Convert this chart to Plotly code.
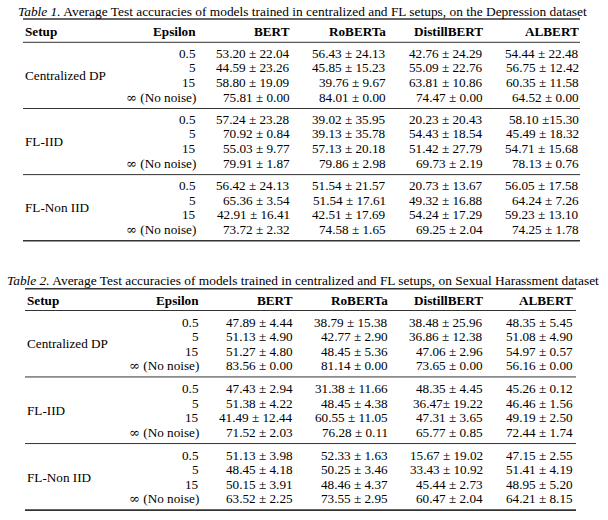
import plotly.graph_objects as go

# ---------------- data ----------------
models = ["BERT", "RoBERTa", "DistillBERT", "ALBERT"]
setups = ["Centralized DP", "FL-IID", "FL-Non IID"]
epsilons = ["0.5", "5", "15", "∞ (No noise)"]

caption1_label = "Table 1."
caption1_text = "Average Test accuracies of models trained in centralized and FL setups, on the Depression dataset"
caption2_label = "Table 2."
caption2_text = "Average Test accuracies of models trained in centralized and FL setups, on Sexual Harassment dataset"

# Table 1 (Depression) - rows: Centralized DP x4, FL-IID x4, FL-Non IID x4
dep_bert = ["53.20 ± 22.04", "44.59 ± 23.26", "58.80 ± 19.09", "75.81 ± 0.00",
            "57.24 ± 23.28", "70.92 ± 0.84", "55.03 ± 9.77", "79.91 ± 1.87",
            "56.42 ± 24.13", "65.36 ± 3.54", "42.91 ± 16.41", "73.72 ± 2.32"]
dep_roberta = ["56.43 ± 24.13", "45.85 ± 15.23", "39.76 ± 9.67", "84.01 ± 0.00",
               "39.02 ± 35.95", "39.13 ± 35.78", "57.13 ± 20.18", "79.86 ± 2.98",
               "51.54 ± 21.57", "51.54 ± 17.61", "42.51 ± 17.69", "74.58 ± 1.65"]
dep_distilbert = ["42.76 ± 24.29", "55.09 ± 22.76", "63.81 ± 10.86", "74.47 ± 0.00",
                  "20.23 ± 20.43", "54.43 ± 18.54", "51.42 ± 27.79", "69.73 ± 2.19",
                  "20.73 ± 13.67", "49.32 ± 16.88", "54.24 ± 17.29", "69.25 ± 2.04"]
dep_albert = ["54.44 ± 22.48", "56.75 ± 12.42", "60.35 ± 11.58", "64.52 ± 0.00",
              "58.10 ±15.30", "45.49 ± 18.32", "54.71 ± 15.68", "78.13 ± 0.76",
              "56.05 ± 17.58", "64.24 ± 7.26", "59.23 ± 13.10", "74.25 ± 1.78"]

# Table 2 (Sexual Harassment)
sh_bert = ["47.89 ± 4.44", "51.13 ± 4.90", "51.27 ± 4.80", "83.56 ± 0.00",
           "47.43 ± 2.94", "51.38 ± 4.22", "41.49 ± 12.44", "71.52 ± 2.03",
           "51.13 ± 3.98", "48.45 ± 4.18", "50.15 ± 3.91", "63.52 ± 2.25"]
sh_roberta = ["38.79 ± 15.38", "42.77 ± 2.90", "48.45 ± 5.36", "81.14 ± 0.00",
              "31.38 ± 11.66", "48.45 ± 4.38", "60.55 ± 11.05", "76.28 ± 0.11",
              "52.33 ± 1.63", "50.25 ± 3.46", "48.46 ± 4.37", "73.55 ± 2.95"]
sh_distilbert = ["38.48 ± 25.96", "36.86 ± 12.38", "47.06 ± 2.96", "73.65 ± 0.00",
                 "48.35 ± 4.45", "36.47± 19.22", "47.31 ± 3.65", "65.77 ± 0.85",
                 "15.67 ± 19.02", "33.43 ± 10.92", "45.44 ± 2.73", "60.47 ± 2.04"]
sh_albert = ["48.35 ± 5.45", "51.08 ± 4.90", "54.97 ± 0.57", "56.16 ± 0.00",
             "45.26 ± 0.12", "46.46 ± 1.56", "49.19 ± 2.50", "72.44 ± 1.74",
             "47.15 ± 2.55", "51.41 ± 4.19", "48.95 ± 5.20", "64.21 ± 8.15"]

# ---------------- layout / style ----------------
W, H = 608, 520
FONT = "Liberation Serif, Times New Roman, serif"
FS = 13.2
CAP_FS = 13.4
RULE_COLOR = "#333333"

tables = [
    dict(cap_label=caption1_label, cap_text=caption1_text,
         cols=[dep_bert, dep_roberta, dep_distilbert, dep_albert],
         cap_x=17, cap_y=11.5, top=19, header=31, mid=42.3,
         row0=53.2, step=14.67, gstep=66.1, gap_after=11.3,
         x_left=23, x_right=580, eps_r=197, col_r=[291, 386.5, 484, 580]),
    dict(cap_label=caption2_label, cap_text=caption2_text,
         cols=[sh_bert, sh_roberta, sh_distilbert, sh_albert],
         cap_x=6, cap_y=280.8, top=288.8, header=300.7, mid=310.5,
         row0=322.0, step=14.55, gstep=66.6, gap_after=11.3,
         x_left=25, x_right=576, eps_r=200, col_r=[294, 388.5, 484, 574]),
]

annotations = []
shapes = []


def fmt_eps(s):
    # LaTeX-style wide infinity sign
    return s.replace("∞", "<span style=\"font-family:'DejaVu Serif'\">∞</span>")


def txt(x, y, s, anchor, size=FS):
    annotations.append(dict(x=x, y=y, xref="x", yref="y", text=s, showarrow=False,
                            xanchor=anchor, yanchor="middle",
                            font=dict(family=FONT, size=size, color="black"),
                            borderpad=0))


def rule(y, x0, x1, w):
    shapes.append(dict(type="line", xref="x", yref="y", x0=x0, x1=x1, y0=y, y1=y,
                       line=dict(color=RULE_COLOR, width=w)))


for t in tables:
    txt(t["cap_x"], t["cap_y"], f"<i>{t['cap_label']}</i> {t['cap_text']}", "left", CAP_FS)
    rule(t["top"], t["x_left"], t["x_right"], 1.6)
    # header
    txt(t["x_left"] + 1, t["header"], "<b>Setup</b>", "left")
    txt(t["eps_r"], t["header"], "<b>Epsilon</b>", "right")
    for m, xr in zip(models, t["col_r"]):
        txt(xr, t["header"], f"<b>{m}</b>", "right")
    rule(t["mid"], t["x_left"], t["x_right"], 1.0)
    for g, setup in enumerate(setups):
        gy = t["row0"] + g * t["gstep"]
        ys = [gy + i * t["step"] for i in range(len(epsilons))]
        txt(t["x_left"] + 1, (ys[0] + ys[-1]) / 2, setup, "left")
        for i, eps in enumerate(epsilons):
            txt(t["eps_r"], ys[i], fmt_eps(eps), "right")
            for col, xr in zip(t["cols"], t["col_r"]):
                txt(xr, ys[i], col[g * len(epsilons) + i], "right")
        last = ys[-1] + t["gap_after"]
        rule(last, t["x_left"], t["x_right"], 1.6 if g == len(setups) - 1 else 1.0)

fig = go.Figure()
fig.add_trace(go.Scatter(x=[0, W], y=[0, H], mode="markers",
                         marker=dict(opacity=0), hoverinfo="skip", showlegend=False))
fig.update_layout(
    width=W, height=H, margin=dict(l=0, r=0, t=0, b=0),
    paper_bgcolor="white", plot_bgcolor="white",
    xaxis=dict(range=[0, W], visible=False, fixedrange=True),
    yaxis=dict(range=[H, 0], visible=False, fixedrange=True),
    annotations=annotations, shapes=shapes, showlegend=False,
)
fig.write_html("out.html", config={"displayModeBar": False},
               post_script="document.body.style.margin='0';document.body.style.overflow='hidden';")
